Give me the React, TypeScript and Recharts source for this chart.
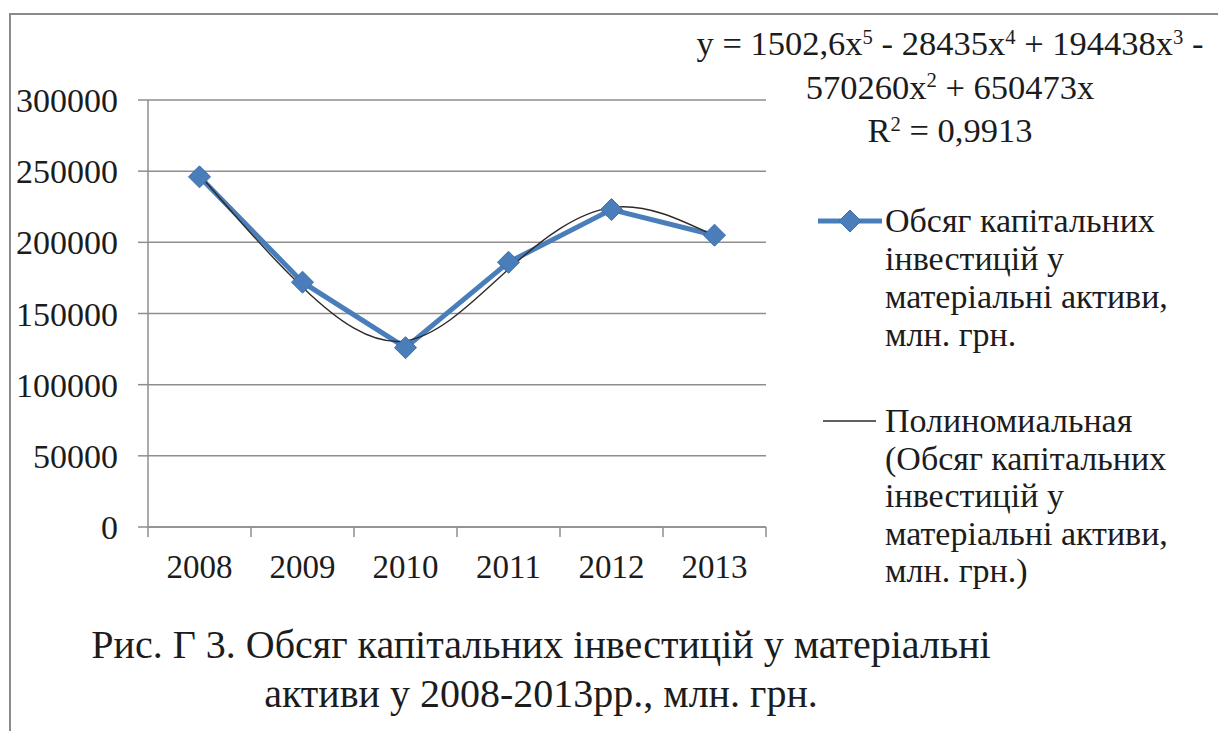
import { LineChart, Line, XAxis, YAxis, CartesianGrid } from 'recharts'

const years = ['2008', '2009', '2010', '2011', '2012', '2013']
const investValues = [246000, 172000, 126000, 186000, 223000, 205000]
// поліноміальний тренд, значення зчитані з кривої на малюнку
const trendValues = [247700, 168500, 130800, 181100, 224400, 204500]
const yTicks = [0, 50000, 100000, 150000, 200000, 250000, 300000]

const seriesName = 'Обсяг капітальних інвестицій у матеріальні активи, млн. грн.'

const W = 1218
const H = 731
const PLOT_LEFT = 148
const PLOT_RIGHT = 766
const PLOT_TOP = 100
const PLOT_BOTTOM = 527
const X_TICK_SIZE = 10
const X_TICK_MARGIN = 18
const BAND = (PLOT_RIGHT - PLOT_LEFT) / years.length

const FONT = "'Liberation Serif', 'Times New Roman', serif"
const TEXT = '#1c1c1c'
const GRID = '#8e8e8e'
const BLUE = '#4a7ebb'
const TREND = '#2e2a28'

const data = years.map((year, i) => ({
  year,
  invest: investValues[i],
  trend: trendValues[i],
}))

function Diamond({ cx, cy }: { cx?: number; cy?: number }) {
  if (cx == null || cy == null) return null
  const r = 11
  return (
    <polygon
      points={`${cx},${cy - r} ${cx + r},${cy} ${cx},${cy + r} ${cx - r},${cy}`}
      fill={BLUE}
      stroke="#3d6eaa"
      strokeWidth={1}
    />
  )
}

function YearTick(props: any) {
  const { x, y, payload, index } = props
  const axisY = y - X_TICK_SIZE - X_TICK_MARGIN
  const half = BAND / 2
  return (
    <g>
      <line x1={x - half} x2={x - half} y1={axisY} y2={axisY + X_TICK_SIZE} stroke={GRID} strokeWidth={1.5} />
      {index === years.length - 1 && (
        <line x1={x + half} x2={x + half} y1={axisY} y2={axisY + X_TICK_SIZE} stroke={GRID} strokeWidth={1.5} />
      )}
      <text x={x} y={y} dy="0.71em" textAnchor="middle" fill={TEXT} fontSize={33} style={{ fontFamily: FONT }}>
        {payload.value}
      </text>
    </g>
  )
}

const sup = { fontSize: '0.6em', position: 'relative' as const, top: '-0.55em' }

export default function App() {
  return (
    <div style={{ position: 'absolute', left: 0, top: 0, width: W, height: H, background: '#fff', overflow: 'hidden', fontFamily: FONT, color: TEXT }}>
      <div style={{ position: 'absolute', left: 9, top: 13, right: 0, bottom: 0, borderTop: '2px solid #8a8a8a', borderLeft: '2px solid #8a8a8a' }} />

      <div style={{ position: 'absolute', left: 0, top: 0 }}>
        <LineChart
          width={W}
          height={H}
          data={data}
          margin={{ top: PLOT_TOP, right: W - PLOT_RIGHT, bottom: H - PLOT_BOTTOM - 60, left: 0 }}
        >
          <CartesianGrid vertical={false} stroke={GRID} strokeWidth={1.5} />
          <XAxis
            dataKey="year"
            height={60}
            padding={{ left: BAND / 2, right: BAND / 2 }}
            axisLine={{ stroke: GRID, strokeWidth: 1.5 }}
            tickLine={false}
            tickSize={X_TICK_SIZE}
            tickMargin={X_TICK_MARGIN}
            tick={<YearTick />}
            interval={0}
          />
          <YAxis
            width={PLOT_LEFT}
            domain={[0, 300000]}
            ticks={yTicks}
            interval={0}
            axisLine={{ stroke: GRID, strokeWidth: 1.5 }}
            tickLine={{ stroke: GRID, strokeWidth: 1.5 }}
            tickSize={10}
            tickMargin={20}
            tick={{ fill: TEXT, fontSize: 34, style: { fontFamily: FONT } }}
          />
          <Line
            type="linear"
            dataKey="invest"
            name={seriesName}
            stroke={BLUE}
            strokeWidth={5}
            dot={<Diamond />}
            activeDot={false}
            isAnimationActive={false}
          />
          <Line
            type="natural"
            dataKey="trend"
            name={'Полиномиальная (' + seriesName + ')'}
            stroke={TREND}
            strokeWidth={1.4}
            dot={false}
            activeDot={false}
            isAnimationActive={false}
          />
        </LineChart>
      </div>

      {/* рівняння тренду */}
      <div style={{ position: 'absolute', left: 680, width: 540, top: 24, fontSize: 34.5, lineHeight: '38.5px', textAlign: 'center', whiteSpace: 'nowrap' }}>
        y = 1502,6x<span style={sup}>5</span> - 28435x<span style={sup}>4</span> + 194438x<span style={sup}>3</span> -
        <br />
        570260x<span style={sup}>2</span> + 650473x
        <br />
        R<span style={sup}>2</span> = 0,9913
      </div>

      {/* легенда */}
      <svg style={{ position: 'absolute', left: 0, top: 0 }} width={W} height={H}>
        <line x1={818} x2={882} y1={221} y2={221} stroke={BLUE} strokeWidth={5} />
        <Diamond cx={850} cy={221} />
        <line x1={823} x2={876} y1={421} y2={421} stroke={TREND} strokeWidth={1.4} />
      </svg>
      <div style={{ position: 'absolute', left: 885, top: 202, fontSize: 34, lineHeight: '38px', whiteSpace: 'nowrap' }}>
        Обсяг капітальних
        <br />
        інвестицій у
        <br />
        матеріальні активи,
        <br />
        млн. грн.
      </div>
      <div style={{ position: 'absolute', left: 885, top: 402, fontSize: 34, lineHeight: '37.5px', whiteSpace: 'nowrap' }}>
        Полиномиальная
        <br />
        (Обсяг капітальних
        <br />
        інвестицій у
        <br />
        матеріальні активи,
        <br />
        млн. грн.)
      </div>

      {/* підпис рисунка */}
      <div style={{ position: 'absolute', left: 41, width: 1000, top: 620, fontSize: 40, lineHeight: '49px', textAlign: 'center', whiteSpace: 'nowrap' }}>
        Рис. Г 3. Обсяг капітальних інвестицій у матеріальні
        <br />
        активи у 2008-2013рр., млн. грн.
      </div>
    </div>
  )
}
